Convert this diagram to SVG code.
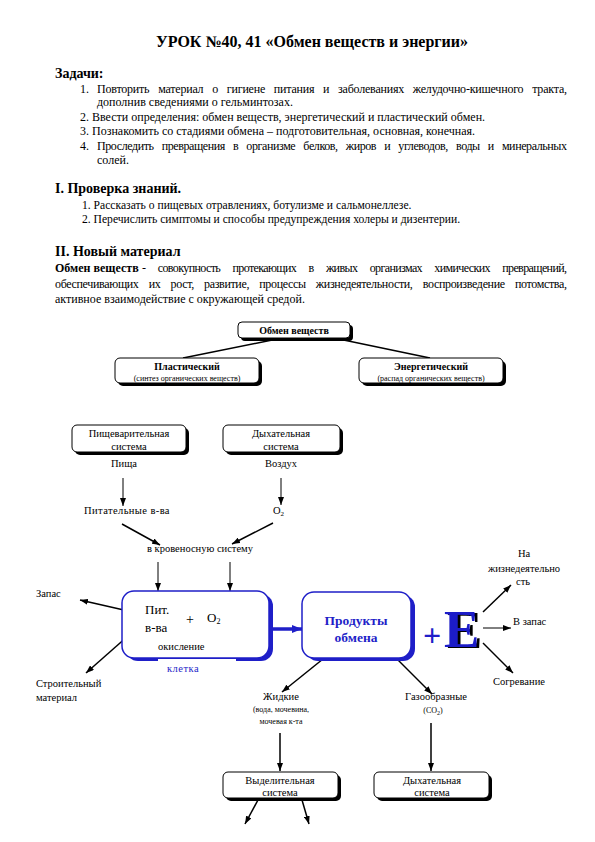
<svg xmlns="http://www.w3.org/2000/svg" width="595" height="842" viewBox="0 0 595 842">
<style>
text{font-family:"Liberation Serif","Times New Roman",serif;fill:#000}
.t{font-size:16px;font-weight:bold}
.h{font-size:14px;font-weight:bold}
.b{font-size:12px}
.bs{font-size:11.6px}
.bb{font-size:12px;font-weight:bold}
.d{font-size:10.5px}
.s{font-size:8px}
.c{text-anchor:middle}
.blue{fill:#1f1fc8}
.box{fill:#fff;stroke:#000;stroke-width:1}
.sh{fill:#000}
.cbox{fill:#fff;stroke:#1f1fc8;stroke-width:1.5}
.csh{fill:#1f1fc8}
.ln{stroke:#000;stroke-width:1;fill:none}
.ln2{stroke:#000;stroke-width:1.5;fill:none}
</style>
<defs>
<marker id="ah" markerUnits="userSpaceOnUse" markerWidth="8" markerHeight="6" refX="8" refY="3" orient="auto"><path d="M0,0 L8,3 L0,6 z" fill="#000"/></marker>
<marker id="ahb" markerUnits="userSpaceOnUse" markerWidth="10" markerHeight="8" refX="10" refY="4" orient="auto"><path d="M0,0 L10,4 L0,8 z" fill="#1f1fc8"/></marker>
<filter id="eshadow" x="-20%" y="-20%" width="150%" height="150%">
<feOffset in="SourceAlpha" dx="3" dy="1" result="off"/>
<feFlood flood-color="#000"/>
<feComposite in2="off" operator="in" result="shadow"/>
<feMerge><feMergeNode in="shadow"/><feMergeNode in="SourceGraphic"/></feMerge>
</filter>
</defs>

<!-- Header text -->
<text class="t c" x="312" y="47">УРОК  №40, 41 «Обмен веществ и энергии»</text>
<text class="h" x="55" y="78">Задачи:</text>
<text class="b" x="80" y="93">1.</text>
<text class="b" x="97" y="93" style="word-spacing:6px" textLength="470" lengthAdjust="spacing">Повторить материал о гигиене питания и заболеваниях желудочно-кишечного тракта,</text>
<text class="b" x="97" y="106">дополнив сведениями о гельминтозах.</text>
<text class="b" x="80" y="121">2. Ввести определения: обмен веществ, энергетический и пластический обмен.</text>
<text class="b" x="80" y="135">3. Познакомить со стадиями обмена – подготовительная, основная, конечная.</text>
<text class="b" x="80" y="150">4.</text>
<text class="b" x="97" y="150" style="word-spacing:5.5px" textLength="470" lengthAdjust="spacing">Проследить превращения в организме белков, жиров и углеводов, воды и минеральных</text>
<text class="b" x="97" y="164">солей.</text>

<text class="h" x="55" y="193">I. Проверка знаний.</text>
<text class="bs" x="82" y="209">1. Рассказать о пищевых отравлениях, ботулизме и сальмонеллезе.</text>
<text class="bs" x="82" y="223">2. Перечислить симптомы и способы предупреждения холеры и дизентерии.</text>

<text class="h" x="55" y="256">II. Новый материал</text>
<text class="bb" x="55" y="272">Обмен веществ</text>
<text class="b" x="142" y="272" style="word-spacing:10px" textLength="425" lengthAdjust="spacing">- совокупность протекающих в живых организмах химических превращений,</text>
<text class="b" x="55" y="288" style="word-spacing:7.5px" textLength="512" lengthAdjust="spacing">обеспечивающих их рост, развитие, процессы жизнедеятельности, воспроизведение потомства,</text>
<text class="b" x="55" y="303">активное взаимодействие с окружающей средой.</text>

<!-- Connectors -->
<g id="connectors">
<line class="ln2" x1="282" y1="338" x2="183" y2="358"/>
<line class="ln2" x1="334" y1="338" x2="430" y2="358"/>
<line class="ln" x1="123" y1="478" x2="123" y2="506" marker-end="url(#ah)"/>
<line class="ln" x1="281" y1="478" x2="281" y2="505" marker-end="url(#ah)"/>
<line class="ln2" x1="122" y1="524" x2="160" y2="545" marker-end="url(#ah)"/>
<line class="ln2" x1="273" y1="523" x2="232" y2="544" marker-end="url(#ah)"/>
<line class="ln" x1="158" y1="562" x2="158" y2="591" marker-end="url(#ah)"/>
<line class="ln" x1="230" y1="562" x2="230" y2="591" marker-end="url(#ah)"/>
<line class="ln2" x1="137" y1="613" x2="80" y2="600" marker-end="url(#ah)"/>
<line class="ln2" x1="137" y1="628" x2="86" y2="673" marker-end="url(#ah)"/>
<line x1="269" y1="629" x2="302" y2="629" stroke="#1f1fc8" stroke-width="3.5" marker-end="url(#ahb)"/>
<line class="ln2" x1="483" y1="612" x2="511" y2="585" marker-end="url(#ah)"/>
<line class="ln" x1="483" y1="628" x2="511" y2="628" marker-end="url(#ah)"/>
<line class="ln2" x1="483" y1="643" x2="513" y2="673" marker-end="url(#ah)"/>
<line class="ln2" x1="323" y1="659" x2="282" y2="692" marker-end="url(#ah)"/>
<line class="ln2" x1="397" y1="659" x2="432" y2="694" marker-end="url(#ah)"/>
<line class="ln2" x1="280" y1="733" x2="280" y2="771" marker-end="url(#ah)"/>
<line class="ln2" x1="431" y1="723" x2="431" y2="771" marker-end="url(#ah)"/>
<line class="ln2" x1="258" y1="800" x2="245" y2="824" marker-end="url(#ah)"/>
<line class="ln2" x1="302" y1="800" x2="309" y2="824" marker-end="url(#ah)"/>
</g>

<!-- Nodes -->
<g id="obmen">
<rect class="sh" x="241" y="325" width="112" height="16" rx="4"/>
<rect class="box" x="238" y="322" width="112" height="16" rx="4"/>
<text class="c" x="294" y="334" style="font-size:10px;font-weight:bold">Обмен веществ</text>
</g>
<g id="plast">
<rect class="sh" x="118" y="361" width="144" height="25" rx="5"/>
<rect class="box" x="115" y="358" width="144" height="25" rx="5"/>
<text class="c" x="187" y="370" style="font-size:10px;font-weight:bold">Пластический</text>
<text class="s c" x="187" y="381">(синтез органических веществ)</text>
</g>
<g id="energ">
<rect class="sh" x="362" y="361" width="144" height="25" rx="5"/>
<rect class="box" x="359" y="358" width="144" height="25" rx="5"/>
<text class="c" x="431" y="370" style="font-size:10px;font-weight:bold">Энергетический</text>
<text class="s c" x="431" y="381">(распад органических веществ)</text>
</g>
<g id="pishchevar">
<rect class="sh" x="75" y="428" width="114" height="27" rx="5"/>
<rect class="box" x="72" y="425" width="114" height="27" rx="5"/>
<text class="d c" x="129" y="437">Пищеварительная</text>
<text class="d c" x="129" y="450">система</text>
</g>
<g id="dykhat1">
<rect class="sh" x="226" y="428" width="117" height="27" rx="5"/>
<rect class="box" x="223" y="425" width="117" height="27" rx="5"/>
<text class="d c" x="281" y="437">Дыхательная</text>
<text class="d c" x="281" y="450">система</text>
</g>
<g id="pishcha"><text class="d c" x="124" y="467">Пища</text></g>
<g id="vozdukh"><text class="d c" x="281" y="467">Воздух</text></g>
<g id="pitat"><text class="d c" x="127" y="514" style="letter-spacing:0.4px">Питательные в-ва</text></g>
<g id="o2"><text class="d" x="273" y="514">O<tspan style="font-size:7px" dy="2">2</tspan></text></g>
<g id="krov"><text class="d c" x="200" y="552">в кровеносную систему</text></g>
<g id="zapas"><text class="d" x="36" y="597">Запас</text></g>
<g id="stroit"><text class="d" x="36" y="687">Строительный</text><text class="d" x="36" y="701">материал</text></g>

<g id="kletka">
<rect class="csh" x="126" y="594" width="147" height="67" rx="12"/>
<rect class="cbox" x="122" y="591" width="147" height="67" rx="12"/>
<rect x="158" y="659" width="78" height="4" fill="#fff"/>
<text x="145" y="614" style="font-size:13px">Пит.</text>
<text x="145" y="632" style="font-size:13px">в-ва</text>
<text x="186" y="624" style="font-size:14px">+</text>
<text x="207" y="622" style="font-size:13px">O<tspan style="font-size:8px" dy="2">2</tspan></text>
<text class="d" x="158" y="650">окисление</text>
<text class="d blue" x="167" y="672" style="letter-spacing:0.5px">клетка</text>
</g>

<g id="produkty">
<rect class="csh" x="306" y="595" width="109" height="66" rx="12"/>
<rect class="cbox" x="302" y="592" width="109" height="66" rx="12"/>
<text class="c blue" x="356" y="625" style="font-size:13.5px;font-weight:bold">Продукты</text>
<text class="c blue" x="356" y="642" style="font-size:13.5px;font-weight:bold">обмена</text>
</g>

<g id="energy">
<text class="blue" x="423" y="646" style="font-size:32px;font-weight:bold">+</text>
<text class="blue" x="444" y="647" style="font-size:53px;font-weight:bold" filter="url(#eshadow)">E</text>
</g>

<g id="na-zhizn"><text class="d c" x="524" y="557">На</text><text class="d c" x="524" y="572">жизнедеятельно</text><text class="d c" x="523" y="585">сть</text></g>
<g id="v-zapas"><text class="d" x="513" y="625">В запас</text></g>
<g id="sogrev"><text class="d c" x="519" y="685">Согревание</text></g>

<g id="zhidkie">
<text class="d c" x="281" y="700">Жидкие</text>
<text class="s c" x="281" y="712">(вода, мочевина,</text>
<text class="s c" x="281" y="724">мочевая к-та</text>
</g>
<g id="gazoobr">
<text class="d c" x="436" y="700">Газообразные</text>
<text class="s c" x="433" y="713">(CO<tspan style="font-size:6px" dy="1.5">2</tspan><tspan dy="-1.5">)</tspan></text>
</g>

<g id="vydelit">
<rect class="sh" x="226" y="775" width="115" height="26" rx="5"/>
<rect class="box" x="223" y="772" width="115" height="26" rx="5"/>
<text class="d c" x="280" y="784">Выделительная</text>
<text class="d c" x="280" y="796">система</text>
</g>
<g id="dykhat2">
<rect class="sh" x="377" y="775" width="115" height="26" rx="5"/>
<rect class="box" x="374" y="772" width="115" height="26" rx="5"/>
<text class="d c" x="432" y="784">Дыхательная</text>
<text class="d c" x="432" y="796">система</text>
</g>
</svg>
